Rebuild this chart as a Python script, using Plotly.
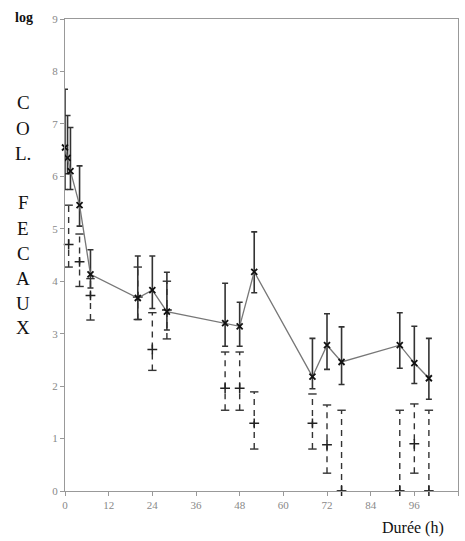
import plotly.graph_objects as go

# Solid series (connected, x markers)
t_main = [0, 0.7, 1.5, 4, 7, 20, 24, 28, 44, 48, 52, 68, 72, 76, 92, 96, 100]
y_main = [6.55, 6.35, 6.1, 5.45, 4.13, 3.68, 3.83, 3.42, 3.2, 3.14, 4.18, 2.18, 2.78, 2.46, 2.78, 2.44, 2.15]
hi_main = [7.66, 7.16, 6.93, 6.2, 4.6, 4.48, 4.48, 4.17, 3.96, 3.6, 4.94, 2.91, 3.38, 3.13, 3.4, 3.14, 2.91]
lo_main = [5.75, 6.05, 5.75, 5.05, 3.87, 3.27, 3.48, 3.07, 2.76, 2.76, 3.78, 1.95, 2.32, 2.03, 2.34, 2.05, 1.75]

# Dashed series (+ markers, dashed error bars)
t_dash = [1, 4, 7, 20, 24, 28, 44, 48, 52, 68, 72, 76, 92, 96, 100]
y_dash = [4.7, 4.37, 3.73, 3.7, 2.7, 3.45, 1.96, 1.96, 1.29, 1.29, 0.88, 0, 0, 0.9, 0]
hi_dash = [5.45, 4.9, 4.05, 4.27, 3.4, 4.0, 2.65, 2.65, 1.89, 1.85, 1.64, 1.54, 1.54, 1.66, 1.54]
lo_dash = [4.27, 3.9, 3.26, 3.27, 2.3, 2.9, 1.54, 1.54, 0.8, 0.8, 0.34, 0, 0, 0.34, 0]

x_ticks = [0, 12, 24, 36, 48, 60, 72, 84, 96, 108]
y_ticks = [0, 1, 2, 3, 4, 5, 6, 7, 8, 9]
side_letters = ["C", "O", "L.", "F", "E", "C", "A", "U", "X"]
side_letter_px = [103, 128, 153, 203, 228, 253, 278, 303, 328]

fig = go.Figure()

# dashed error bars built from data
seg_x, seg_y = [], []
for t, lo, hi in zip(t_dash, lo_dash, hi_dash):
    seg_x += [t, t, None]
    seg_y += [lo, hi, None]
fig.add_trace(go.Scatter(x=seg_x, y=seg_y, mode="lines",
                         line=dict(color="#333", width=1.4, dash="6px,5px"),
                         hoverinfo="skip", showlegend=False, cliponaxis=False))
fig.add_trace(go.Scatter(x=t_dash + t_dash, y=hi_dash + lo_dash, mode="markers",
                         marker=dict(symbol="line-ew", size=6, line=dict(color="#333", width=1.4)),
                         showlegend=False, cliponaxis=False))
fig.add_trace(go.Scatter(x=t_dash, y=y_dash, mode="markers",
                         marker=dict(symbol="cross-thin", size=7, line=dict(color="#222", width=1.5)),
                         showlegend=False, cliponaxis=False))

# solid series
fig.add_trace(go.Scatter(
    x=t_main, y=y_main, mode="lines+markers",
    line=dict(color="#777", width=1.3),
    marker=dict(symbol="x-thin", size=6, line=dict(color="#111", width=1.8)),
    error_y=dict(type="data", symmetric=False,
                 array=[h - v for h, v in zip(hi_main, y_main)],
                 arrayminus=[v - l for v, l in zip(y_main, lo_main)],
                 color="#333", thickness=1.6, width=3),
    showlegend=False, cliponaxis=False))

# text
L, R, T, B = 65, 458, 19, 491
def px_x(p): return (p - L) / (R - L)
def px_y(p): return (B - p) / (B - T)

common = dict(xref="paper", yref="paper", showarrow=False, xanchor="center", yanchor="middle")
ann = [dict(text="<b>log</b>", x=px_x(24), y=px_y(18),
            font=dict(family="Liberation Serif", size=14, color="#111"), **common)]
for ch, py in zip(side_letters, side_letter_px):
    ann.append(dict(text=ch, x=px_x(23), y=px_y(py),
                    font=dict(family="Liberation Serif", size=19, color="#111"), **common))
ann.append(dict(text="Durée (h)", x=px_x(413), y=px_y(528),
                font=dict(family="Liberation Serif", size=16, color="#111"), **common))

fig.update_layout(
    width=465, height=541,
    margin=dict(l=L, r=465 - R, t=T, b=541 - B),
    paper_bgcolor="white", plot_bgcolor="white",
    annotations=ann,
    xaxis=dict(range=[0, 108], tickvals=x_ticks, showgrid=False, zeroline=False,
               showline=True, linecolor="#999", linewidth=1.2, mirror=True,
               ticks="outside", ticklen=4, tickcolor="#999",
               tickfont=dict(family="Liberation Serif", size=11, color="#888")),
    yaxis=dict(range=[0, 9], tickvals=y_ticks, showgrid=False, zeroline=False,
               showline=True, linecolor="#999", linewidth=1.2, mirror=True,
               ticks="outside", ticklen=4, tickcolor="#999",
               tickfont=dict(family="Liberation Serif", size=11, color="#888")),
)

fig.write_html("out.html")
